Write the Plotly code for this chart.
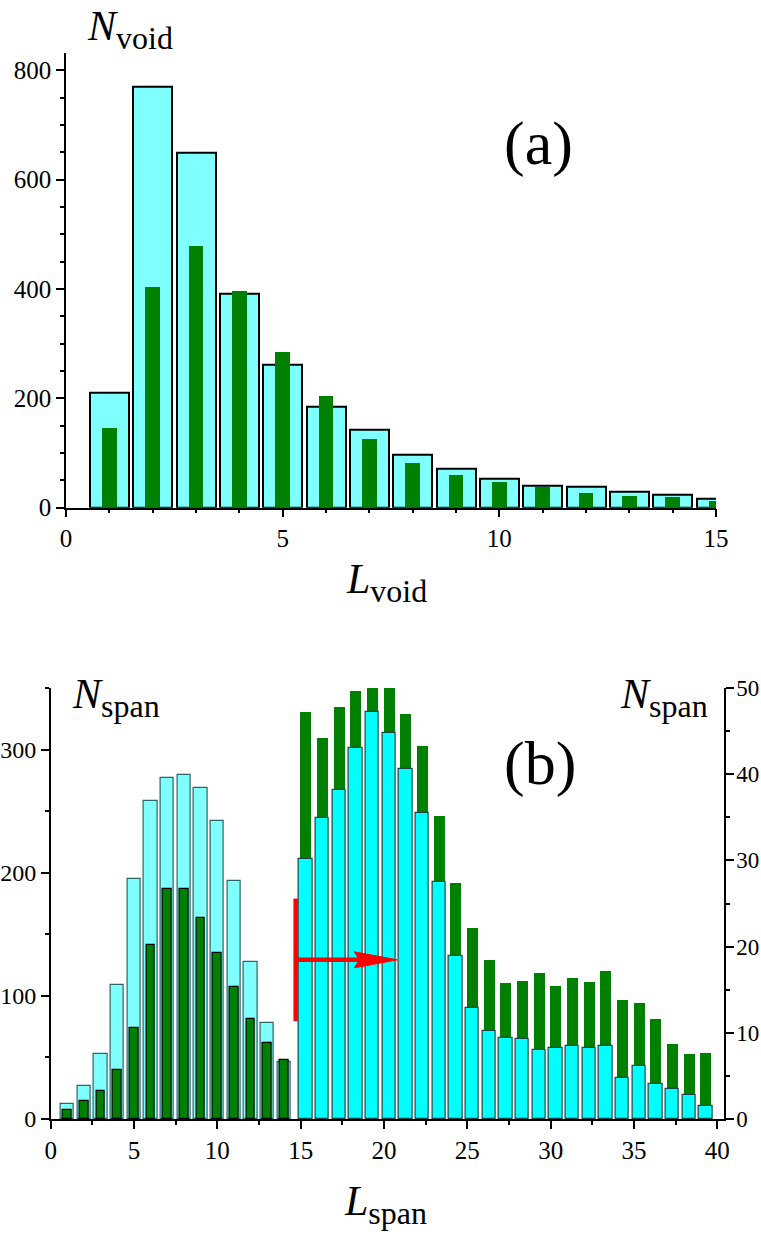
import plotly.graph_objects as go

# ---------------- data ----------------
# (a) void-length histogram
L_void = list(range(1, 16))
N_void_total = [210, 770, 650, 391, 262, 185, 142, 97.6, 71, 52.5, 39.7, 37.8, 29.3, 23.2, 17.1]
N_void_part = [147, 405, 480, 396, 286, 204, 125.6, 81.7, 61, 47, 39, 28, 22.6, 20, 13.5]

# (b) span-length histogram, short spans (left axis)
L_span_short = list(range(1, 15))
N_span_short_total = [12, 27, 53, 108.7, 194.9, 258.5, 277, 279.3, 268.7, 241.7, 193.3, 127.6, 78.1, 46]
N_span_short_part = [7.3, 14.6, 22.4, 40, 73.5, 141.7, 187, 186.8, 163.5, 135.2, 107, 81, 61.6, 47.6]

# (b) span-length histogram, long spans (right axis)
L_span_long = list(range(15, 40))
N_span_long_total = [30.15, 34.9, 38.2, 43.0, 47.2, 44.8, 40.6, 35.5, 27.5, 18.9, 12.9, 10.2, 9.37,
                     9.25, 7.97, 8.28, 8.47, 8.24, 8.47, 4.72, 6.19, 4.02, 3.44, 2.83, 1.55]
N_span_long_part = [47.2, 44.2, 47.8, 49.6, 50.1, 50.1, 47.0, 43.3, 35.2, 27.4, 22.2, 18.4, 15.75,
                    16.0, 16.9, 15.4, 16.4, 15.9, 17.2, 13.8, 13.5, 11.6, 8.7, 7.55, 7.66]
LONG_SHIFT = 0.3  # long-span bars sit slightly right of their integer bins

# red marker: threshold line and arrow (x in L_span units)
THRESH_X = 14.7
THRESH_Y = (79.5, 179)      # left-axis units
ARROW_Y = 18.46             # right-axis units
ARROW_TIP_X = 20.8

# ---------------- geometry ----------------
W, H = 761, 1236
SERIF = "Liberation Serif, Times New Roman, serif"


def px_x(p):
    return p / W


def px_y(p):
    return 1 - p / H


LIGHT_CYAN = "#80FFFF"
CYAN = "#00FFFF"
GREEN = "#008000"

fig = go.Figure()

# panel (a)
fig.add_trace(go.Bar(x=L_void, y=N_void_total, width=0.9, marker_color=LIGHT_CYAN,
                     marker_line=dict(color="black", width=2), xaxis="x", yaxis="y"))
fig.add_trace(go.Bar(x=L_void, y=N_void_part, width=0.34, marker_color=GREEN,
                     marker_line_width=0, xaxis="x", yaxis="y"))

# panel (b), short spans on the left axis
fig.add_trace(go.Bar(x=L_span_short, y=N_span_short_total, width=0.8, marker_color=LIGHT_CYAN,
                     marker_line=dict(color="#2d6464", width=1.2), xaxis="x2", yaxis="y2"))
fig.add_trace(go.Bar(x=L_span_short, y=N_span_short_part, width=0.52, marker_color=GREEN,
                     marker_line=dict(color="black", width=1.2), xaxis="x2", yaxis="y2"))

# panel (b), long spans on the right axis
long_x = [v + LONG_SHIFT for v in L_span_long]
fig.add_trace(go.Bar(x=long_x, y=N_span_long_part, width=0.66, marker_color=GREEN,
                     marker_line_width=0, xaxis="x2", yaxis="y3"))
fig.add_trace(go.Bar(x=long_x, y=N_span_long_total, width=0.8, marker_color=CYAN,
                     marker_line=dict(color="#1e4646", width=1.2), xaxis="x2", yaxis="y3"))

tickfont = dict(family=SERIF, size=25, color="black")
common = dict(showgrid=False, zeroline=False, showline=True, linecolor="black", linewidth=1.5,
              ticks="outside", ticklen=8, tickwidth=1.5, tickcolor="black", tickfont=tickfont,
              fixedrange=True, automargin=False)


def minor(d):
    return dict(dtick=d, ticks="outside", ticklen=4, tickwidth=1.5, tickcolor="black", showgrid=False)


fig.update_layout(
    template="none",
    font=dict(family=SERIF, color="black"),
    width=W, height=H, autosize=False,
    margin=dict(l=0, r=0, t=0, b=0, pad=0),
    paper_bgcolor="white", plot_bgcolor="white",
    showlegend=False, barmode="overlay", bargap=0,
    xaxis=dict(domain=[px_x(66), px_x(716)], range=[0, 15], anchor="y",
               tick0=0, dtick=5, minor=minor(1), **common),
    yaxis=dict(domain=[px_y(507.7), px_y(52.7)], range=[0, 832], anchor="x",
               tick0=0, dtick=200, minor=minor(50), **common),
    xaxis2=dict(domain=[px_x(50.7), px_x(724)], range=[0, 40.4], anchor="y2",
                tick0=0, dtick=5, minor=minor(2.5), **common),
    yaxis2=dict(domain=[px_y(1119), px_y(688)], range=[0, 350], anchor="x2",
                tick0=0, dtick=100, minor=minor(50), **common),
    yaxis3=dict(overlaying="y2", side="right", anchor="x2", range=[0, 50],
                tick0=0, dtick=10, minor=minor(5), **common),
)
fig.update_layout(yaxis2_tickfont_size=24, yaxis3_tickfont_size=23,
                  yaxis3_ticklabelstandoff=-2)

# red threshold line and arrow
RED = "#FF0000"
fig.add_shape(type="line", xref="x2", yref="y2", x0=THRESH_X, x1=THRESH_X,
              y0=THRESH_Y[0], y1=THRESH_Y[1], line=dict(color=RED, width=4.5), layer="above")
fig.add_shape(type="line", xref="x2", yref="y3", x0=THRESH_X, x1=ARROW_TIP_X - 1.5,
              y0=ARROW_Y, y1=ARROW_Y, line=dict(color=RED, width=4.5), layer="above")
fig.add_shape(type="path", xref="x2", yref="y3", xsizemode="pixel", ysizemode="pixel",
              xanchor=ARROW_TIP_X, yanchor=ARROW_Y,
              path="M0,0 L-43,8 L-38,0 L-43,-8 Z",
              fillcolor=RED, line=dict(color=RED, width=1), layer="above")


def label(text, x, y, size, xanchor="center"):
    fig.add_annotation(text=text, xref="paper", yref="paper", x=px_x(x), y=px_y(y),
                       xanchor=xanchor, yanchor="middle", showarrow=False,
                       font=dict(family=SERIF, size=size, color="black"))


def sym(main, sub):
    return f"<i>{main}</i><sub><span style='font-size:32px'>{sub}</span></sub>"


label(sym("N", "void"), 85, 29, 42, xanchor="left")
label(sym("L", "void"), 386, 582, 42)
label("(a)", 538, 144, 62)
label(sym("N", "span"), 70, 697, 42, xanchor="left")
label(sym("N", "span"), 618, 697, 42, xanchor="left")
label("(b)", 540, 763, 62)
label(sym("L", "span"), 385, 1204, 42)

fig.write_html("out.html")
